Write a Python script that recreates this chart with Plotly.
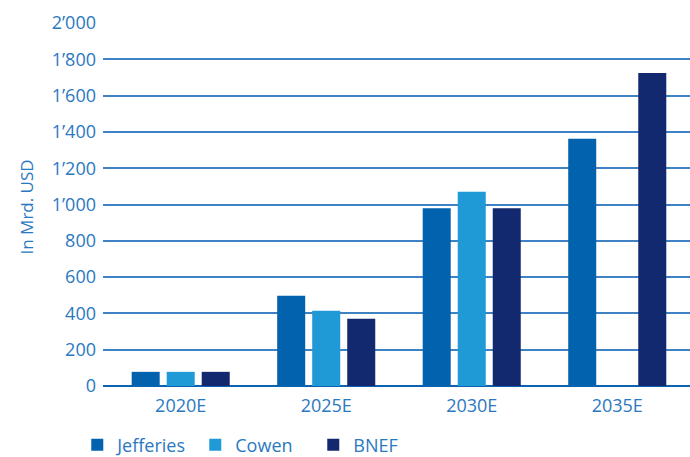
import plotly.graph_objects as go

# Forecast years and estimates (bn USD) from three sources
years = ["2020E", "2025E", "2030E", "2035E"]
jefferies = [78, 497, 980, 1362]
cowen = [78, 415, 1070, None]
bnef = [78, 370, 980, 1725]

series_names = ["Jefferies", "Cowen", "BNEF"]
series_colors = ["#0262AE", "#1F9AD7", "#12286F"]

y_ticks = [0, 200, 400, 600, 800, 1000, 1200, 1400, 1600, 1800, 2000]
y_tick_labels = ["0", "200", "400", "600", "800", "1’000", "1’200",
                 "1’400", "1’600", "1’800", "2’000"]

text_color = "#2A78C0"
font_family = "Open Sans, Noto Sans, sans-serif"

fig = go.Figure()
for name, vals, color in zip(series_names, [jefferies, cowen, bnef], series_colors):
    fig.add_trace(go.Bar(
        name=name, x=years, y=vals,
        marker=dict(color=color, line=dict(width=0)),
    ))

fig.update_layout(
    width=690, height=457,
    margin=dict(l=103, r=0, t=23, b=71, autoexpand=False),
    paper_bgcolor="white", plot_bgcolor="white",
    barmode="group", bargap=0.278, bargroupgap=0.2,
    font=dict(family=font_family, color=text_color, size=18),
    legend=dict(
        orientation="h", xref="container", x=0.112, xanchor="left",
        yref="container", y=0.026, yanchor="middle",
        font=dict(size=18, color=text_color), itemwidth=30,
        traceorder="normal", entrywidth=73,
    ),
    xaxis=dict(
        type="category", range=[-0.534, 3.5],
        showgrid=False, showline=False, ticks="",
        ticklabelstandoff=7,
        tickfont=dict(size=18, color=text_color),
    ),
    yaxis=dict(
        range=[0, 2000], tickvals=y_ticks, ticktext=y_tick_labels,
        showgrid=True, gridcolor="#3F82C4", gridwidth=1.5,
        zeroline=True, zerolinecolor="#0A63B0", zerolinewidth=2,
        showline=False, ticks="", ticklabelstandoff=6,
        tickfont=dict(size=18, color=text_color),
    ),
    annotations=[dict(
        text="In Mrd. USD", textangle=-90,
        xref="paper", yref="paper", x=0, y=0.5,
        xanchor="center", yanchor="middle", xshift=-77, yshift=-3,
        showarrow=False, font=dict(size=17, color=text_color),
    )],
)

fig.write_html("out.html")
